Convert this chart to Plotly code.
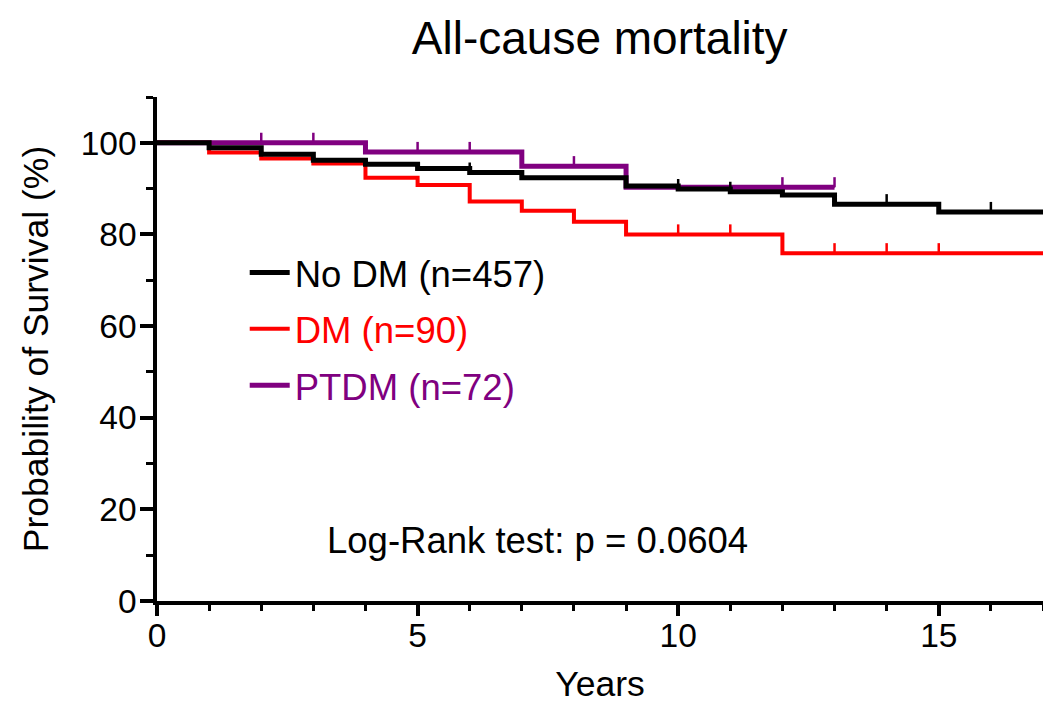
import plotly.graph_objects as go

# ---- data (years, survival %) ----
no_dm_t = [0, 1, 2, 3, 4, 5, 6, 7, 9, 10, 11, 12, 13, 15, 17]
no_dm_s = [100, 98.9, 97.5, 96.2, 95.3, 94.4, 93.5, 92.4, 90.6, 89.9, 89.3, 88.6, 86.6, 84.9, 84.9]
dm_t = [0, 1, 2, 3, 4, 5, 6, 7, 8, 9, 12, 17]
dm_s = [100, 97.9, 96.6, 95.5, 92.4, 90.8, 87.2, 85.2, 82.8, 80.0, 75.9, 75.9]
ptdm_t = [0, 4, 7, 9, 13]
ptdm_s = [100, 98.0, 94.9, 90.3, 90.3]

# censoring times
no_dm_cens = [6, 10, 11, 14, 16]
dm_cens = [10, 11, 13, 14, 15]
ptdm_cens = [2, 3, 5, 6, 8, 12, 13]

names = ["No DM (n=457)", "DM (n=90)", "PTDM (n=72)"]
colors = ["#000000", "#FF0000", "#800080"]
widths = [5, 4, 5]

FONT = "Arial, Liberation Sans, Helvetica, sans-serif"


def surv_at(times, vals, t):
    v = vals[0]
    for ti, vi in zip(times, vals):
        if ti <= t:
            v = vi
    return v


series = [
    (no_dm_t, no_dm_s, no_dm_cens),
    (dm_t, dm_s, dm_cens),
    (ptdm_t, ptdm_s, ptdm_cens),
]

fig = go.Figure()

# draw purple first, then red, then black on top
for idx in [2, 1, 0]:
    t, s, c = series[idx]
    fig.add_trace(go.Scatter(
        x=t, y=s, mode="lines", line=dict(color=colors[idx], width=widths[idx], shape="hv"),
        name=f"<span style='color:{colors[idx]}'>{names[idx]}</span>",
        legendgroup=f"g{idx}", legendrank=idx + 1, showlegend=True,
    ))

for idx in [2, 1, 0]:
    t, s, c = series[idx]
    cy = [surv_at(t, s, ct) for ct in c]
    fig.add_trace(go.Scatter(
        x=c, y=cy, mode="markers", marker=dict(size=1, color=colors[idx]),
        error_y=dict(type="data", symmetric=False, array=[2.2] * len(c), arrayminus=[0] * len(c),
                     width=0, thickness=2.5, color=colors[idx]),
        showlegend=False, hoverinfo="skip", legendgroup=f"g{idx}",
    ))

fig.add_annotation(
    text="Log-Rank test: p = 0.0604", xref="paper", yref="paper",
    x=0.429, y=0.12, xanchor="center", yanchor="middle", showarrow=False,
    font=dict(family=FONT, size=36.5, color="black"),
)

fig.update_layout(
    width=1043, height=704,
    margin=dict(l=157, r=0, t=97, b=103),
    paper_bgcolor="white", plot_bgcolor="white",
    font=dict(family=FONT, size=35, color="black"),
    title=dict(text="All-cause mortality", x=0.575, xanchor="center", y=1 - 38 / 704,
               yanchor="middle", yref="container", font=dict(family=FONT, size=46, color="black")),
    legend=dict(x=0.099, y=0.712, xanchor="left", yanchor="top", traceorder="grouped",
                tracegroupgap=6, font=dict(family=FONT, size=36.5), itemwidth=40,
                bgcolor="rgba(0,0,0,0)"),
    showlegend=True,
)

fig.update_xaxes(
    range=[0, 17], showgrid=False, zeroline=False,
    showline=True, linecolor="black", linewidth=3.5,
    tickmode="array", tickvals=[0, 5, 10, 15], ticks="outside", ticklen=11, tickwidth=3.5,
    tickcolor="black", tickfont=dict(family=FONT, size=33.5, color="black"),
    ticklabelstandoff=-9,
    minor=dict(dtick=1, ticks="outside", ticklen=6, tickwidth=3, tickcolor="black", showgrid=False),
    title=dict(text="Years", standoff=24, font=dict(family=FONT, size=35.5, color="black")),
)
fig.update_yaxes(
    range=[0, 110], showgrid=False, zeroline=False,
    showline=True, linecolor="black", linewidth=3.5,
    tickmode="array", tickvals=[0, 20, 40, 60, 80, 100], ticks="outside", ticklen=13, tickwidth=3.5,
    tickcolor="black", tickfont=dict(family=FONT, size=33.5, color="black"),
    ticklabelstandoff=-3,
    minor=dict(dtick=10, ticks="outside", ticklen=7, tickwidth=3, tickcolor="black", showgrid=False),
    title=dict(text="Probability of Survival (%)", standoff=22,
               font=dict(family=FONT, size=35.5, color="black")),
)

fig.write_html("out.html")
